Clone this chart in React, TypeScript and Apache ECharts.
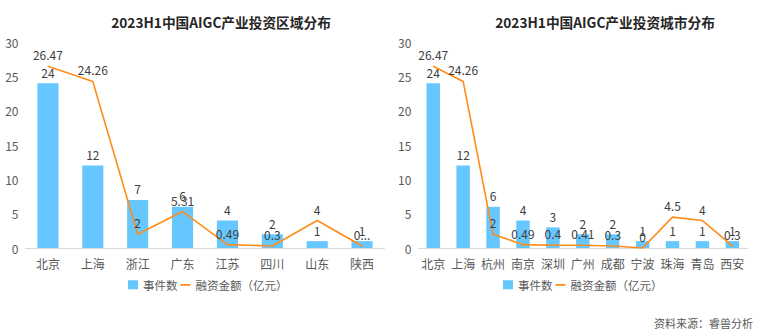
import React, { useEffect, useRef } from "react";
import * as echarts from "echarts";

const regionCategories = ["北京", "上海", "浙江", "广东", "江苏", "四川", "山东", "陕西"];
const regionEvents = [24, 12, 7, 6, 4, 2, 1, 1];
const regionAmounts = [26.47, 24.26, 2, 5.31, 0.49, 0.3, 4, 0.3];

const cityCategories = ["北京", "上海", "杭州", "南京", "深圳", "广州", "成都", "宁波", "珠海", "青岛", "西安"];
const cityEvents = [24, 12, 6, 4, 3, 2, 2, 1, 1, 1, 1];
const cityAmounts = [26.47, 24.26, 2, 0.49, 0.4, 0.41, 0.3, 0, 4.5, 4, 0.3];

const yTicks = [0, 5, 10, 15, 20, 25, 30];

const BAR_NAME = "事件数";
const LINE_NAME = "融资金额（亿元）";
const FONT = "'Noto Sans CJK SC', 'Noto Sans', sans-serif";
const BAR_COLOR = "#66C7FF";
const LINE_COLOR = "#FF8C1A";

export default function App() {
  const ref = useRef<HTMLDivElement>(null);
  useEffect(() => {
    document.body.style.margin = "0";
    if (!ref.current) return;
    const chart = echarts.init(ref.current, undefined, { renderer: "svg" });

    const labelStyle = { show: true, position: "top", fontSize: 12, color: "#404040", fontFamily: FONT, distance: 5 };
    const xAxisBase = (data: string[], gridIndex: number) => ({
      type: "category",
      gridIndex,
      data,
      axisLine: { lineStyle: { color: "#D9D9D9", width: 1 } },
      axisTick: { show: false },
      axisLabel: { color: "#595959", fontSize: 12, fontFamily: FONT, margin: 9, interval: 0 },
    });
    const yAxisBase = (gridIndex: number) => ({
      type: "value",
      gridIndex,
      min: yTicks[0],
      max: yTicks[yTicks.length - 1],
      interval: 5,
      axisLine: { show: false },
      axisTick: { show: false },
      splitLine: { show: false },
      axisLabel: { color: "#595959", fontSize: 12, fontFamily: FONT, margin: 7 },
    });

    const regionLineData = regionAmounts.map((v, i) =>
      i === regionAmounts.length - 1 ? { value: v, label: { formatter: "0..." } } : v
    );

    const lineIcon = "path://M0,0 L0.01,0 L0.01,0.01 Z M0,3.8 L10,3.8 L10,5.4 L0,5.4 Z M0,9 L0.01,9 L0.01,8.99 Z";
    const legendBase = (left: number) => ({
      left,
      top: 279,
      padding: 0,
      itemWidth: 10,
      itemHeight: 9,
      itemGap: 3,
      textStyle: { color: "#595959", fontSize: 11.5, fontFamily: FONT },
      data: [
        { name: BAR_NAME, icon: "rect" },
        { name: LINE_NAME, icon: lineIcon },
      ],
    });

    const titleStyle = (text: string, x: number) => ({
      type: "text",
      x,
      y: 22,
      style: {
        text,
        textAlign: "center",
        textVerticalAlign: "middle",
        font: `bold 13.7px ${FONT}`,
        fill: "#262626",
      },
    });

    chart.setOption({
      animation: false,
      textStyle: { fontFamily: FONT },
      grid: [
        { left: 25.5, width: 359, top: 42, height: 206 },
        { left: 418.3, width: 329, top: 42, height: 206 },
      ],
      xAxis: [xAxisBase(regionCategories, 0), xAxisBase(cityCategories, 1)],
      yAxis: [yAxisBase(0), yAxisBase(1)],
      legend: [legendBase(128), legendBase(503)],
      series: [
        {
          name: BAR_NAME,
          type: "bar",
          xAxisIndex: 0,
          yAxisIndex: 0,
          data: regionEvents,
          barCategoryGap: "53%",
          itemStyle: { color: BAR_COLOR },
          label: labelStyle,
        },
        {
          name: LINE_NAME,
          type: "line",
          xAxisIndex: 0,
          yAxisIndex: 0,
          data: regionLineData,
          symbol: "circle",
          symbolSize: 1,
          itemStyle: { color: LINE_COLOR },
          lineStyle: { color: LINE_COLOR, width: 1.6 },
          label: labelStyle,
        },
        {
          name: BAR_NAME,
          type: "bar",
          xAxisIndex: 1,
          yAxisIndex: 1,
          data: cityEvents,
          barCategoryGap: "55%",
          itemStyle: { color: BAR_COLOR },
          label: labelStyle,
        },
        {
          name: LINE_NAME,
          type: "line",
          xAxisIndex: 1,
          yAxisIndex: 1,
          data: cityAmounts,
          symbol: "circle",
          symbolSize: 1,
          itemStyle: { color: LINE_COLOR },
          lineStyle: { color: LINE_COLOR, width: 1.6 },
          label: labelStyle,
        },
      ],
      graphic: [
        titleStyle("2023H1中国AIGC产业投资区域分布", 221),
        titleStyle("2023H1中国AIGC产业投资城市分布", 605),
        {
          type: "text",
          x: 753,
          y: 323,
          style: {
            text: "资料来源：睿兽分析",
            textAlign: "right",
            textVerticalAlign: "middle",
            font: `11px ${FONT}`,
            fill: "#595959",
          },
        },
      ],
    });
    return () => chart.dispose();
  }, []);
  return <div ref={ref} style={{ width: 758, height: 335 }} />;
}
